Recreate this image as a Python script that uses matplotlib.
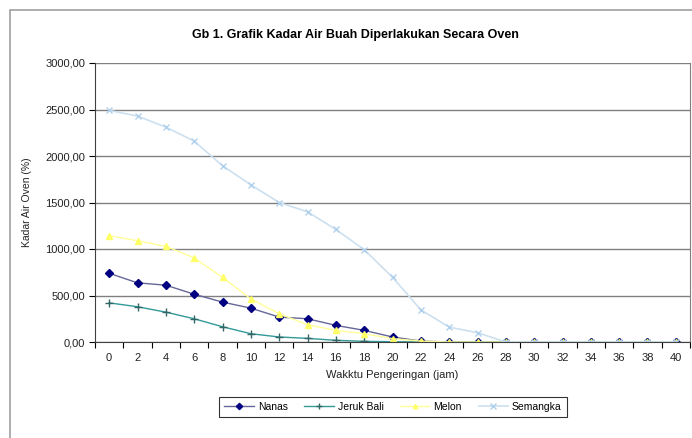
import numpy as np
import matplotlib.pyplot as plt
from matplotlib.patches import Rectangle

plt.rcParams['font.family'] = ['Liberation Sans', 'DejaVu Sans']

jam = [0, 2, 4, 6, 8, 10, 12, 14, 16, 18, 20, 22, 24, 26, 28, 30, 32, 34, 36, 38, 40]
nanas = [739, 636, 611, 514, 429, 364, 268, 250, 179, 125, 54, 10, 0, 0, 0, 0, 0, 0, 0, 0, 0]
jeruk_bali = [421, 379, 321, 250, 164, 89, 54, 39, 18, 7, 3, 0, 0, 0, 0, 0, 0, 0, 0, 0, 0]
melon = [1143, 1089, 1029, 904, 696, 464, 304, 186, 125, 89, 36, 10, 0, 0, 0, 0, 0, 0, 0, 0, 0]
semangka = [2490, 2430, 2310, 2160, 1895, 1690, 1500, 1400, 1210, 993, 696, 346, 160, 100, 0, 0, 0, 0, 0, 0, 0]

fig = plt.figure(figsize=(6.92, 4.38), dpi=100)
# outer chart border
fig.patches.append(Rectangle((10/692, -0.1), 1.1, 1 - 10/438 + 0.1, transform=fig.transFigure,
                             fill=False, edgecolor='#a0a0a0', linewidth=1.2))
ax = fig.add_axes([95/692, 1 - 342/438, 595/692, 279/438])

x = np.arange(len(jam))
ax.plot(x, nanas, color='#666699', lw=1, marker='D', ms=4, mfc='#000080', mec='#000080', label='Nanas')
ax.plot(x, jeruk_bali, color='#339999', lw=1, marker='+', ms=6, mew=1, mec='#336666', label='Jeruk Bali')
ax.plot(x, melon, color='#ffff99', lw=1, marker='^', ms=4, mfc='#ffff66', mec='#ffff66', label='Melon')
ax.plot(x, semangka, color='#cce0f0', lw=1.2, marker='x', ms=5, mec='#b0d0ec', label='Semangka')

ax.set_xlim(-0.5, len(jam) - 0.5)
ax.set_ylim(0, 3000)
ax.set_yticks(np.arange(0, 3001, 500))
ax.set_yticklabels([f'{v:.2f}'.replace('.', ',') for v in np.arange(0, 3001, 500)], fontsize=8, color='#222222')
ax.yaxis.grid(True, color='#808080', lw=1)
ax.set_axisbelow(True)

ax.set_xticks(np.arange(-0.5, len(jam), 1))
ax.set_xticklabels([])
ax.set_xticks(x, minor=True)
ax.set_xticklabels([str(j) for j in jam], minor=True, fontsize=8, color='#222222')
ax.tick_params(axis='x', which='major', length=4, direction='out', color='black')
ax.tick_params(axis='x', which='minor', length=0, pad=8)
ax.tick_params(axis='y', length=4, direction='out', pad=3)

ax.spines['top'].set_visible(False)
ax.spines['right'].set_color('#808080')
ax.spines['left'].set_color('#404040')
ax.spines['bottom'].set_color('#404040')

ax.set_xlabel('Wakktu Pengeringan (jam)', fontsize=8, labelpad=5, color='#222222')
ax.set_ylabel('Kadar Air Oven (%)', fontsize=7.5, labelpad=10, color='#222222')
fig.text(355/692, 1 - 35/438, 'Gb 1. Grafik Kadar Air Buah Diperlakukan Secara Oven',
         ha='center', va='center', fontsize=9, fontweight='bold')

leg = fig.legend(loc='center', bbox_to_anchor=(393/692, 1 - 407/438), ncol=4, fontsize=7.5,
                 frameon=True, fancybox=False, edgecolor='black', handlelength=2.8, columnspacing=1.6,
                 handletextpad=0.4, borderpad=0.5, markerscale=0.8)
leg.get_frame().set_linewidth(0.8)

fig.savefig('out.png', dpi=100)
